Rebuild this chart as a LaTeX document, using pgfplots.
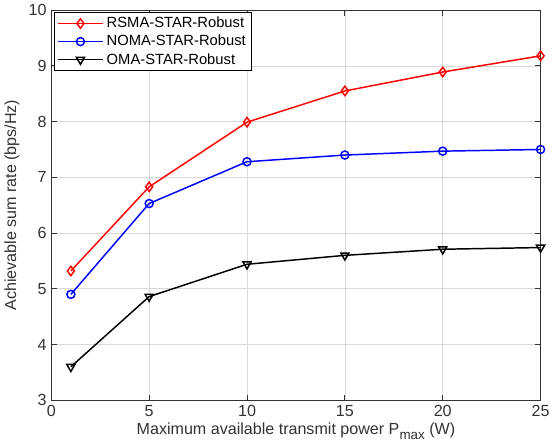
\documentclass[border=0pt]{standalone}
\usepackage{pgfplots}
\pgfplotsset{compat=1.18}
\usepackage{fontspec}
\setmainfont{Liberation Sans}
\begin{document}
\begin{tikzpicture}
\begin{axis}[
  scale only axis,
  width=365pt, height=291pt,
  xmin=0, xmax=25, ymin=3, ymax=10,
  xtick={0,5,...,25}, ytick={3,...,10},
  grid=major,
  grid style={black!15, line width=0.5pt},
  axis line style={black!80, line width=0.6pt},
  tick style={black!80, line width=0.6pt},
  tick align=inside,
  major tick length=4pt,
  ticklabel style={font=\fontsize{12}{13}\selectfont, text=black!80},
  /pgf/number format/assume math mode=true,
  xlabel={Maximum available transmit power P\raisebox{-0.55ex}{\fontsize{10}{11}\selectfont max} (W)},
  ylabel={Achievable sum rate (bps/Hz)},
  label style={font=\fontsize{12}{13}\selectfont, text=black!80},
  xlabel style={yshift=2pt},
  legend style={at={(0.005,0.995)}, anchor=north west, draw=black, line width=0.6pt,
    font=\fontsize{11}{12}\selectfont, row sep=0pt, inner xsep=2pt, inner ysep=1.5pt},
  legend cell align=left,
  legend image code/.code={\draw[mark repeat=2, mark phase=2, #1, line width=1.1pt]
    plot coordinates {(0cm,0cm) (0.6cm,0cm) (1.2cm,0cm)};},
]
\addplot[red, line width=1.1pt, mark=diamond, mark size=3.5pt, mark options={solid, line width=1.1pt}]
  coordinates {(1,5.32) (5,6.83) (10,7.99) (15,8.55) (20,8.89) (25,9.18)};
\addlegendentry{RSMA-STAR-Robust}
\addplot[blue, line width=1.1pt, mark=o, mark size=3pt, mark options={solid, line width=1.1pt}]
  coordinates {(1,4.90) (5,6.53) (10,7.28) (15,7.40) (20,7.47) (25,7.50)};
\addlegendentry{NOMA-STAR-Robust}
\addplot[black, line width=1.1pt, mark=triangle, mark size=3.5pt, mark options={solid, rotate=180, line width=1.1pt}]
  coordinates {(1,3.60) (5,4.86) (10,5.44) (15,5.60) (20,5.71) (25,5.74)};
\addlegendentry{OMA-STAR-Robust}
\end{axis}
\end{tikzpicture}
\end{document}
